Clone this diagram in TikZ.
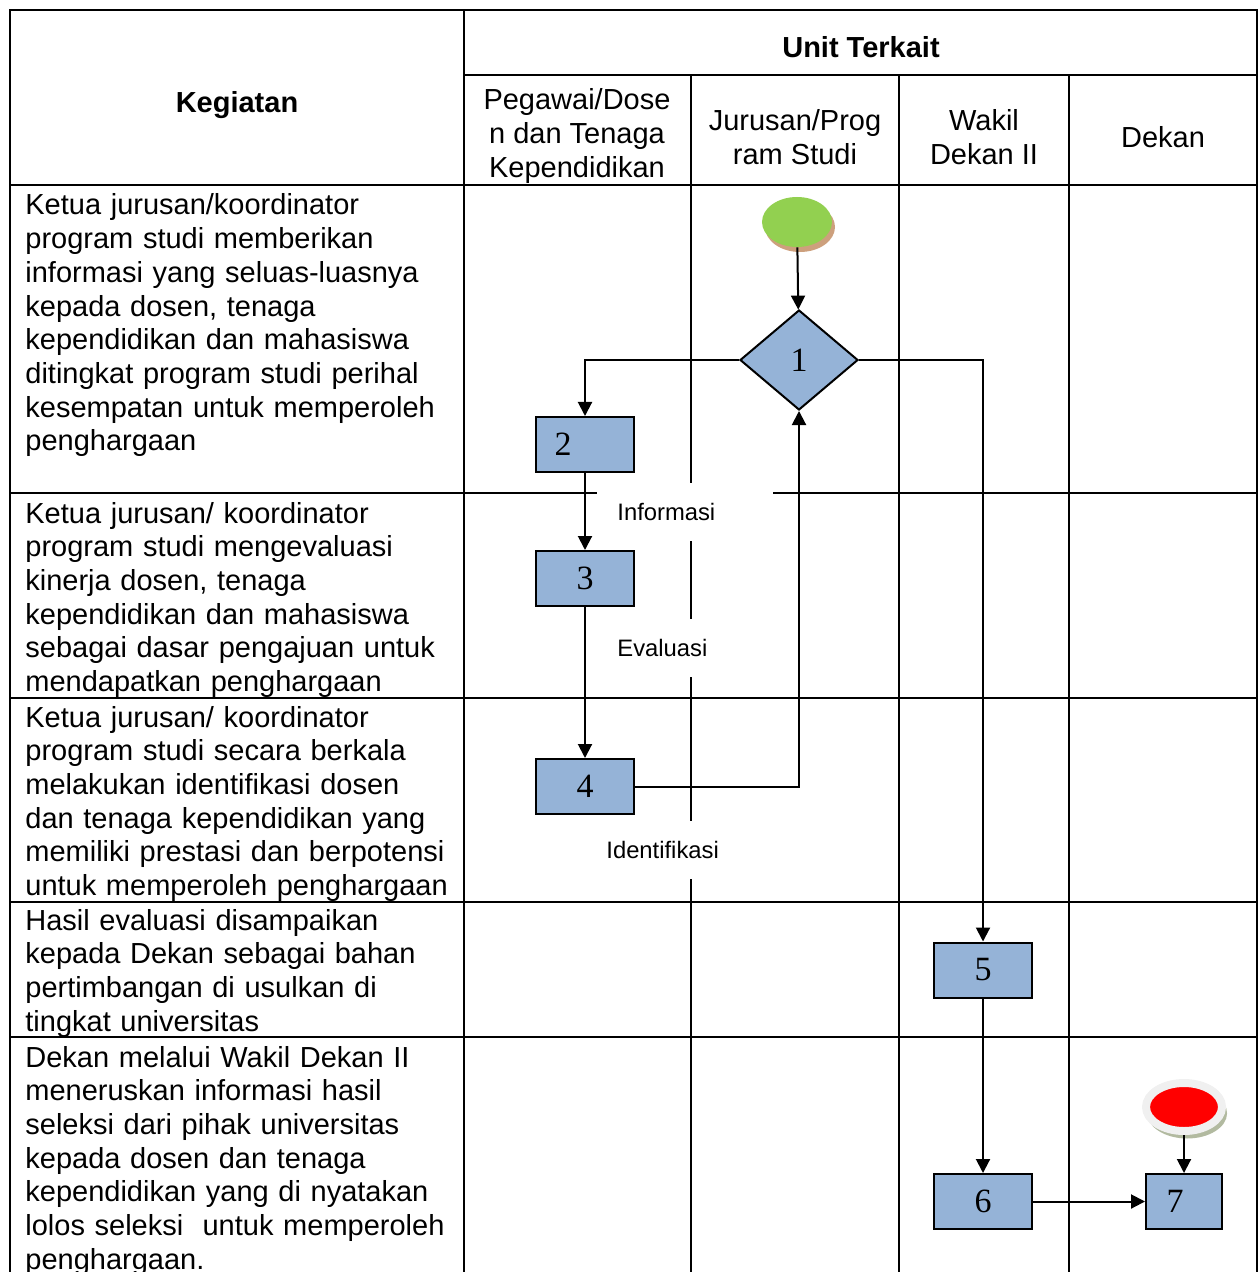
\documentclass[tikz,border=0pt]{standalone}
\usepackage{fontspec}
\setmainfont{Liberation Sans}
\newfontfamily\numfont{Liberation Serif}
\usetikzlibrary{shapes.geometric,shadows,arrows.meta}
\definecolor{boxblue}{RGB}{149,179,215}
\definecolor{startgreen}{RGB}{146,208,80}
\definecolor{startshadow}{RGB}{205,160,125}
\definecolor{endring}{RGB}{240,240,240}
\definecolor{endshadow}{RGB}{178,186,160}
\begin{document}
\begin{tikzpicture}[x=0.5pt,y=-0.5pt,
  grid/.style={line width=1pt},
  flow/.style={line width=1pt,-{Triangle[length=7pt,width=7pt]}},
  proc/.style={draw,line width=1pt,fill=boxblue,minimum width=49pt,minimum height=27.5pt,inner sep=0pt,font=\numfont\fontsize{17}{20}\selectfont},
  dec/.style={diamond,draw,line width=1pt,fill=boxblue,minimum width=59pt,minimum height=50pt,inner sep=0pt,font=\numfont\fontsize{17}{20}\selectfont},
  startnode/.style={ellipse,fill=startgreen,minimum width=35pt,minimum height=25pt,drop shadow={opacity=1,fill=startshadow,shadow xshift=1.5pt,shadow yshift=-2.5pt}},
  endnode/.style={ellipse,draw=endring,line width=4pt,fill=red,minimum width=38pt,minimum height=24pt,drop shadow={opacity=1,fill=endshadow,shadow xshift=1.5pt,shadow yshift=-3pt,shadow scale=1.05}},
  act/.style={anchor=base west,text width=218pt,align=left,inner sep=0pt,font=\fontsize{14.5}{16.85}\selectfont},
  head/.style={align=center,inner sep=0pt,font=\fontsize{14.5}{16.85}\selectfont},
  lbl/.style={fill=white,anchor=west,text width=68pt,align=left,inner xsep=10pt,minimum height=29pt,font=\fontsize{11.9}{14}\selectfont}]
\useasboundingbox (0,0) rectangle (1258,1272);
\clip (0,0) rectangle (1258,1272);

% table
\draw[grid] (10,1280) -- (10,10) -- (1257,10) -- (1257,1280);
\draw[grid] (464,10) -- (464,1280);
\draw[grid] (464,75) -- (1257,75);
\foreach \x in {691,899,1069} \draw[grid] (\x,75) -- (\x,1280);
\foreach \y in {185,493,698,902,1037} \draw[grid] (10,\y) -- (1257,\y);

% headers
\node[head,font=\bfseries\fontsize{14.5}{16.85}\selectfont] (hkeg) at (237,105) {Kegiatan};
\node[head,font=\bfseries\fontsize{14.5}{16.85}\selectfont] (hunit) at (861,47) {Unit Terkait};
\node[head] (hpeg) at (577,136) {Pegawai/Dose\\n dan Tenaga\\Kependidikan};
\node[head] (hjur) at (795,137) {Jurusan/Prog\\ram Studi};
\node[head] (hwak) at (984,137) {Wakil\\Dekan II};
\node[head] (hdek) at (1163,137) {Dekan};

% kegiatan
\node[act] (r1) at (25,215) {Ketua jurusan/koordinator\\program studi memberikan\\informasi yang seluas-luasnya\\kepada dosen, tenaga\\kependidikan dan mahasiswa\\ditingkat program studi perihal\\kesempatan untuk memperoleh\\penghargaan};
\node[act] (r2) at (25,523) {Ketua jurusan/ koordinator\\program studi mengevaluasi\\kinerja dosen, tenaga\\kependidikan dan mahasiswa\\sebagai dasar pengajuan untuk\\mendapatkan penghargaan};
\node[act] (r3) at (25,727) {Ketua jurusan/ koordinator\\program studi secara berkala\\melakukan identifikasi dosen\\dan tenaga kependidikan yang\\memiliki prestasi dan berpotensi\\untuk memperoleh penghargaan};
\node[act] (r4) at (25,930) {Hasil evaluasi disampaikan\\kepada Dekan sebagai bahan\\pertimbangan di usulkan di\\tingkat universitas};
\node[act] (r5) at (25,1067) {Dekan melalui Wakil Dekan II\\meneruskan informasi hasil\\seleksi dari pihak universitas\\kepada dosen dan tenaga\\kependidikan yang di nyatakan\\lolos seleksi \ untuk memperoleh\\penghargaan.};

% labels
\node[lbl] (linfo) at (597,512) {Informasi};
\node[lbl] (leval) at (597,648) {Evaluasi};
\node[lbl,inner xsep=4.5pt,text width=79pt] (lident) at (597,850) {Identifikasi};

% flow
\node[startnode] (start) at (797,222) {};
\node[dec] (d1) at (799,360) {1};
\node[proc] (p2) at (585,444.5) {2\kern22pt};
\node[proc] (p3) at (585,578.5) {3};
\node[proc] (p4) at (585,786.5) {4};
\node[proc] (p5) at (983,970) {5};
\node[proc] (p6) at (983,1201.5) {6};
\node[proc,minimum width=38pt] (p7) at (1184,1201.5) {7\kern9pt};
\node[endnode] (stop) at (1184,1107) {};

\draw[flow] (start) -- (d1);
\draw[flow] (d1.west) -| (p2);
\draw[flow] (d1.east) -| (p5);
\draw[flow] (p2) -- (p3);
\draw[flow] (p3) -- (p4);
\draw[flow] (p4) -| (d1);
\draw[flow] (p5) -- (p6);
\draw[flow] (p6) -- (p7);
\draw[flow] (stop) -- (p7);
\end{tikzpicture}
\end{document}
